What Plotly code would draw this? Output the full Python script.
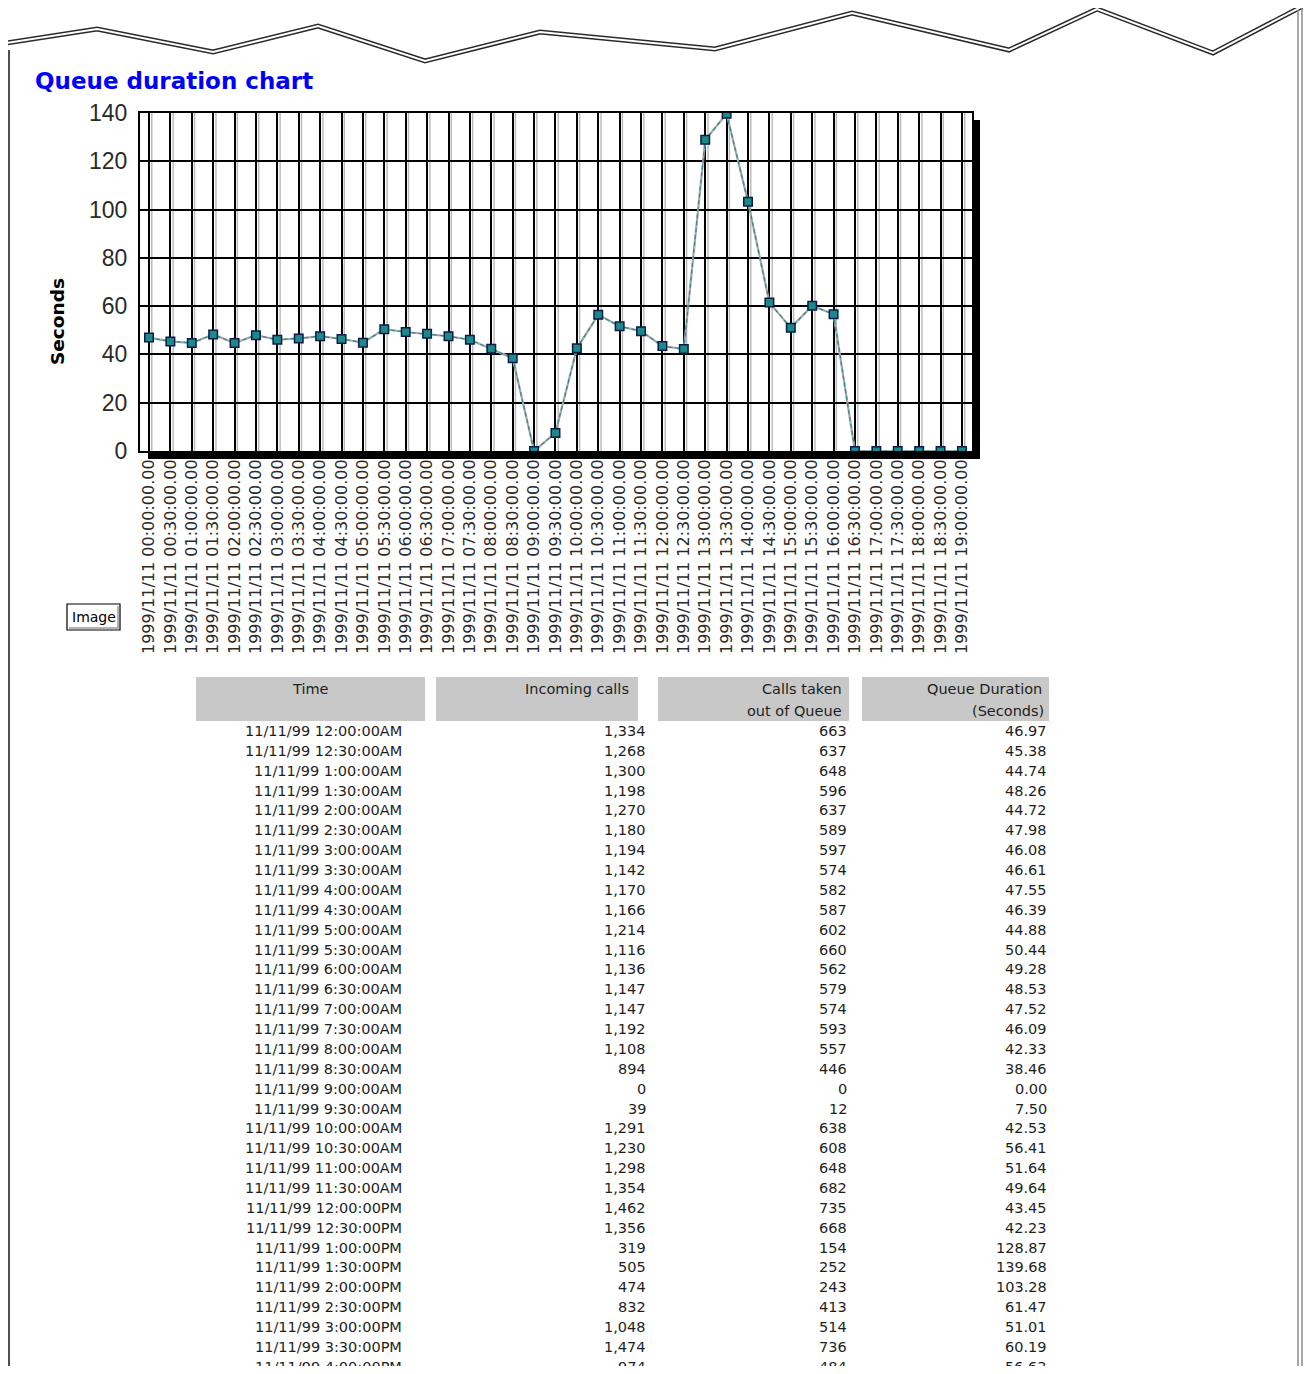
import plotly.graph_objects as go

PAGE_W, PAGE_H = 1311, 1374
OFF = 8                      # default body margin of the page
W, H = PAGE_W - 2 * OFF, PAGE_H - 2 * OFF   # fit inside the window without scrollbars

# ---------------- data ----------------
chart_times = ["00:00", "00:30", "01:00", "01:30", "02:00", "02:30", "03:00", "03:30",
               "04:00", "04:30", "05:00", "05:30", "06:00", "06:30", "07:00", "07:30",
               "08:00", "08:30", "09:00", "09:30", "10:00", "10:30", "11:00", "11:30",
               "12:00", "12:30", "13:00", "13:30", "14:00", "14:30", "15:00", "15:30",
               "16:00", "16:30", "17:00", "17:30", "18:00", "18:30", "19:00"]
queue_seconds = [46.97, 45.38, 44.74, 48.26, 44.72, 47.98, 46.08, 46.61, 47.55, 46.39,
                 44.88, 50.44, 49.28, 48.53, 47.52, 46.09, 42.33, 38.46, 0.00, 7.50,
                 42.53, 56.41, 51.64, 49.64, 43.45, 42.23, 128.87, 139.68, 103.28, 61.47,
                 51.01, 60.19, 56.63, 0, 0, 0, 0, 0, 0]
y_ticks = [0, 20, 40, 60, 80, 100, 120, 140]

table_time = ["11/11/99 12:00:00AM", "11/11/99 12:30:00AM", "11/11/99 1:00:00AM",
              "11/11/99 1:30:00AM", "11/11/99 2:00:00AM", "11/11/99 2:30:00AM",
              "11/11/99 3:00:00AM", "11/11/99 3:30:00AM", "11/11/99 4:00:00AM",
              "11/11/99 4:30:00AM", "11/11/99 5:00:00AM", "11/11/99 5:30:00AM",
              "11/11/99 6:00:00AM", "11/11/99 6:30:00AM", "11/11/99 7:00:00AM",
              "11/11/99 7:30:00AM", "11/11/99 8:00:00AM", "11/11/99 8:30:00AM",
              "11/11/99 9:00:00AM", "11/11/99 9:30:00AM", "11/11/99 10:00:00AM",
              "11/11/99 10:30:00AM", "11/11/99 11:00:00AM", "11/11/99 11:30:00AM",
              "11/11/99 12:00:00PM", "11/11/99 12:30:00PM", "11/11/99 1:00:00PM",
              "11/11/99 1:30:00PM", "11/11/99 2:00:00PM", "11/11/99 2:30:00PM",
              "11/11/99 3:00:00PM", "11/11/99 3:30:00PM", "11/11/99 4:00:00PM"]
table_incoming = [1334, 1268, 1300, 1198, 1270, 1180, 1194, 1142, 1170, 1166, 1214, 1116,
                  1136, 1147, 1147, 1192, 1108, 894, 0, 39, 1291, 1230, 1298, 1354, 1462,
                  1356, 319, 505, 474, 832, 1048, 1474, 974]
table_taken = [663, 637, 648, 596, 637, 589, 597, 574, 582, 587, 602, 660, 562, 579, 574,
               593, 557, 446, 0, 12, 638, 608, 648, 682, 735, 668, 154, 252, 243, 413, 514,
               736, 484]
table_queue = queue_seconds[:len(table_time)]

tick_labels = ["1999/11/11 " + t + ":00.00" for t in chart_times]


def fx(p):
    """page pixel x -> paper fraction"""
    return (p - OFF) / W


def fy(p):
    """page pixel y -> paper fraction"""
    return 1 - (p - OFF) / H


fig = go.Figure()
fig.add_trace(go.Scatter(x=tick_labels, y=queue_seconds, mode="lines",
                         line=dict(color="#a8a8a8", width=2.2), hoverinfo="skip"))
fig.add_trace(go.Scatter(x=tick_labels, y=queue_seconds, mode="lines+markers",
                         line=dict(color="#2a8e8e", width=1.2, dash="4px,3px"),
                         marker=dict(symbol="square", size=8.5, color="#1b8a8a",
                                     line=dict(color="#0d1a4a", width=1.5))))

shapes = []
# light grey doubling beside the vertical grid lines
for i in range(len(tick_labels)):
    shapes.append(dict(type="line", xref="x", yref="paper", x0=i + 0.13, x1=i + 0.13,
                       y0=fy(451), y1=fy(113), line=dict(color="#b8b8b8", width=1.4),
                       layer="below"))
# drop shadow of the chart
shapes.append(dict(type="rect", xref="paper", yref="paper", x0=fx(972), x1=fx(980),
                   y0=fy(459), y1=fy(120), fillcolor="black", line=dict(width=0)))
shapes.append(dict(type="rect", xref="paper", yref="paper", x0=fx(148), x1=fx(980),
                   y0=fy(459), y1=fy(452), fillcolor="black", line=dict(width=0)))

# torn paper edge
edge = [(0, 44), (97, 29), (213, 52), (318, 26), (425, 61), (540, 32), (715, 49),
        (852, 13), (1009, 50), (1097, 9), (1213, 53), (1303, 6)]
path = "M " + " L ".join("%f,%f" % (fx(x), fy(y)) for x, y in edge)
shapes.append(dict(type="path", xref="paper", yref="paper", path=path,
                   line=dict(color="#2a2a2a", width=5)))
shapes.append(dict(type="path", xref="paper", yref="paper", path=path,
                   line=dict(color="white", width=2)))
# side borders
shapes.append(dict(type="line", xref="paper", yref="paper", x0=fx(9), x1=fx(9),
                   y0=fy(50), y1=fy(PAGE_H), line=dict(color="#222222", width=1.6)))
shapes.append(dict(type="line", xref="paper", yref="paper", x0=fx(1298), x1=fx(1298),
                   y0=fy(10), y1=fy(PAGE_H), line=dict(color="#8a8a8a", width=1.5)))
shapes.append(dict(type="line", xref="paper", yref="paper", x0=fx(1302), x1=fx(1302),
                   y0=fy(8), y1=fy(PAGE_H), line=dict(color="#8a8a8a", width=1.5)))

# "Image" button
shapes.append(dict(type="rect", xref="paper", yref="paper", x0=fx(67), x1=fx(120),
                   y0=fy(630), y1=fy(604), line=dict(color="black", width=1.2),
                   fillcolor="white"))
shapes.append(dict(type="path", xref="paper", yref="paper",
                   path="M %f,%f L %f,%f L %f,%f" % (fx(69), fy(628), fx(118), fy(628),
                                                      fx(118), fy(606)),
                   line=dict(color="#9a9a9a", width=1.5)))

# table header cells
header_cells = [(196, 425), (436, 638), (658, 849), (862, 1049)]
for x0, x1 in header_cells:
    shapes.append(dict(type="rect", xref="paper", yref="paper", x0=fx(x0), x1=fx(x1),
                       y0=fy(721), y1=fy(677), fillcolor="#c8c8c8", line=dict(width=0)))

ann = []
ann.append(dict(x=fx(33), y=fy(81), xref="paper", yref="paper", xanchor="left",
                yanchor="middle", showarrow=False, text="<b>Queue duration chart</b>",
                font=dict(family="DejaVu Sans", size=23, color="#0000ff")))
ann.append(dict(x=fx(57), y=fy(322), xref="paper", yref="paper", xanchor="center",
                yanchor="middle", showarrow=False, text="<b>Seconds</b>", textangle=-90,
                font=dict(family="DejaVu Sans", size=18.5, color="black")))
ann.append(dict(x=fx(93.5), y=fy(617), xref="paper", yref="paper", xanchor="center",
                yanchor="middle", showarrow=False, text="Image",
                font=dict(family="DejaVu Sans", size=14, color="black")))

tfont = dict(family="DejaVu Sans", size=14.5, color="#1e1e1e")
headers = [("Time", 310, 689, "center"), ("Incoming calls", 631, 689, "right"),
           ("Calls taken", 844, 689, "right"), ("out of Queue", 844, 711, "right"),
           ("Queue Duration", 1044, 689, "right"), ("(Seconds)", 1046, 711, "right")]
for txt, x, y, anc in headers:
    ann.append(dict(x=fx(x), y=fy(y), xref="paper", yref="paper", xanchor=anc,
                    yanchor="middle", showarrow=False, text=txt, font=tfont))

row0, pitch = 731, 19.87
for i in range(len(table_time)):
    y = fy(row0 + i * pitch)
    vals = [(table_time[i], 404), ("{:,}".format(table_incoming[i]), 648),
            ("{:,}".format(table_taken[i]), 849), ("{:.2f}".format(table_queue[i]), 1049)]
    for txt, x in vals:
        ann.append(dict(x=fx(x), y=y, xref="paper", yref="paper", xanchor="right",
                        yanchor="middle", showarrow=False, text=txt, font=tfont))

fig.update_layout(
    width=W, height=H, margin=dict(l=0, r=0, t=0, b=0, autoexpand=False),
    paper_bgcolor="white", plot_bgcolor="white", showlegend=False,
    shapes=shapes, annotations=ann,
    xaxis=dict(domain=[fx(140), fx(972)], type="category", range=[-0.42, 38.47],
               showgrid=True, gridcolor="black", gridwidth=2,
               showline=True, mirror=True, linecolor="black", linewidth=2,
               tickangle=-90, ticks="", ticklabelstandoff=0, automargin=False,
               tickfont=dict(family="DejaVu Sans", size=16, color="#2a2a2a")),
    yaxis=dict(domain=[fy(451), fy(113)], range=[0, 140], tickvals=y_ticks,
               showgrid=True, gridcolor="black", gridwidth=2, zeroline=False,
               showline=True, mirror=True, linecolor="black", linewidth=2,
               ticks="", ticklabelstandoff=6, automargin=False,
               tickfont=dict(family="Liberation Sans", size=23, color="#2a2a2a")),
)

fig.write_html("out.html", config={"displayModeBar": False})
